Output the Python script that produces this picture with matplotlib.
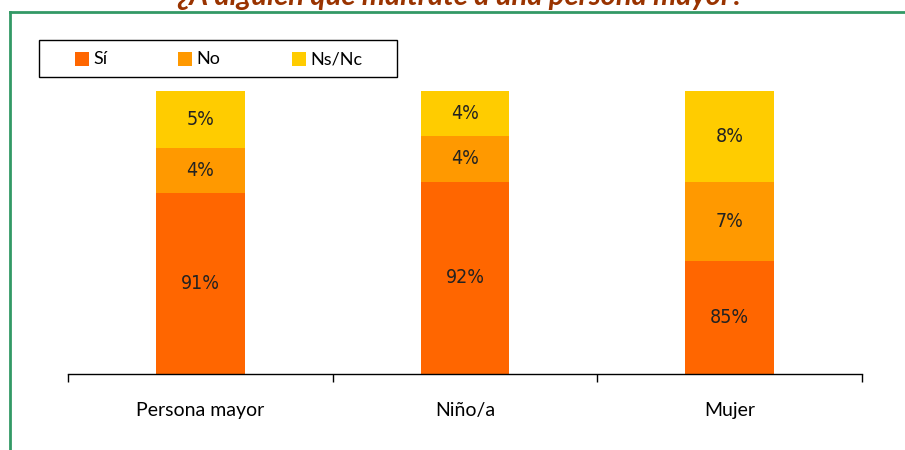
import matplotlib
matplotlib.use("Agg")
import matplotlib.pyplot as plt
from matplotlib.patches import Rectangle
import numpy as np

# data
categories = ["Persona mayor", "Niño/a", "Mujer"]
si = [91, 92, 85]
no = [4, 4, 7]
nsnc = [5, 4, 8]
series_names = ["Sí", "No", "Ns/Nc"]
colors = ["#FF6600", "#FF9900", "#FFCC00"]
title = "¿A alguien que maltrate a una persona mayor?"

plt.rcParams['font.family'] = ['Lato', 'DejaVu Sans']

W, H = 905, 450
fig = plt.figure(figsize=(W/100, H/100), dpi=100)
ax = fig.add_axes([68/W, 1 - 374/H, (862 - 68)/W, (374 - 91)/H])

ymin = 75
x = np.arange(len(categories))
bottom = np.zeros(len(categories))
for vals, name, col in zip([si, no, nsnc], series_names, colors):
    vals = np.array(vals, dtype=float)
    ax.bar(x, vals, width=0.336, bottom=bottom, color=col, label=name,
           linewidth=0)
    for xi, lo, v in zip(x, bottom, vals):
        hi = lo + v
        mid = (max(lo, ymin) + hi) / 2
        ax.text(xi, mid, f"{int(v)}%", ha='center', va='center',
                fontsize=14, color='#222222', family='DejaVu Sans',
                fontstretch='condensed')
    bottom = bottom + vals

ax.set_xlim(-0.5, 2.5)
ax.set_ylim(ymin, 100)
ax.set_yticks([])
for s in ['top', 'right', 'left']:
    ax.spines[s].set_visible(False)
ax.spines['bottom'].set_color('black')
ax.spines['bottom'].set_linewidth(1)
ax.set_xticks(x)
ax.set_xticklabels(categories, fontsize=14, color='black')
ax.tick_params(axis='x', which='major', length=0, pad=20)
ax.set_xticks([-0.5, 0.5, 1.5, 2.5], minor=True)
ax.tick_params(axis='x', which='minor', length=6, width=1, color='black')

# legend box drawn by hand so the entries sit where they do in the original
fig.add_artist(Rectangle((39/W, 1 - 77/H), 358/W, 37/H, transform=fig.transFigure,
                         facecolor='white', edgecolor='black', lw=1))
leg_x = [75, 178, 292]
for lx, name, col in zip(leg_x, series_names, colors):
    fig.add_artist(Rectangle((lx/W, 1 - 66/H), 14/W, 14/H,
                             transform=fig.transFigure, facecolor=col, lw=0))
    fig.text((lx + 18)/W, 1 - 59/H, name, ha='left', va='center',
             fontsize=13, color='black')

# green frame lines
fig.add_artist(plt.Line2D([10/W, 1], [1 - 12/H, 1 - 12/H],
                          transform=fig.transFigure, color='#339966', lw=2))
fig.add_artist(plt.Line2D([10/W, 10/W], [0, 1 - 12/H],
                          transform=fig.transFigure, color='#339966', lw=2))

fig.text(461/W, 1 - 5/H, title, ha='center', va='baseline',
         fontsize=21, fontweight='bold', fontstyle='italic', color='#993300')

fig.savefig("out.png", dpi=100)
